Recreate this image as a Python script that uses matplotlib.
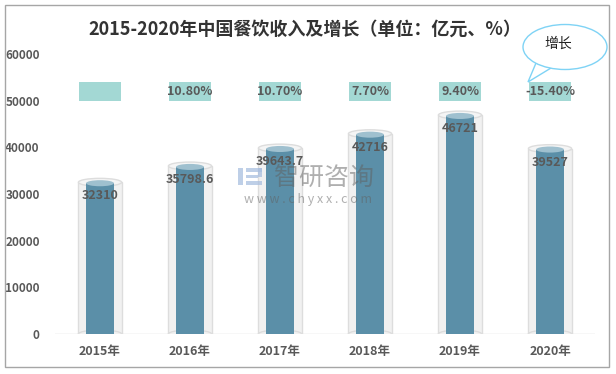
import matplotlib.pyplot as plt
from matplotlib.patches import Ellipse, Rectangle, Polygon

plt.rcParams["font.family"] = ["Noto Sans CJK SC", "DejaVu Sans"]

years = ["2015年", "2016年", "2017年", "2018年", "2019年", "2020年"]
revenue = [32310, 35798.6, 39643.7, 42716, 46721, 39527]
revenue_labels = ["32310", "35798.6", "39643.7", "42716", "46721", "39527"]
growth_labels = ["", "10.80%", "10.70%", "7.70%", "9.40%", "-15.40%"]
yticks = [0, 10000, 20000, 30000, 40000, 50000, 60000]

TEXT = "#595959"
BAR = "#5b8fa8"
BAR_TOP = "#9fc0cf"
BOX = "#a3d8d4"

fig = plt.figure(figsize=(6.16, 3.74), dpi=100)
ax = fig.add_axes([55 / 616, 40 / 374, 540 / 616, 280 / 374])
ax.set_xlim(-0.5, 5.5)
ax.set_ylim(0, 60000)

eh = 1300  # ellipse height in data units
for i, v in enumerate(revenue):
    # glass cylinder
    ax.add_patch(Rectangle((i - 0.24, 0), 0.48, v + 200, facecolor="#f1f1f1",
                           edgecolor="#dddddd", lw=1, zorder=1))
    ax.add_patch(Ellipse((i, 0), 0.48, eh * 1.3, facecolor="#f1f1f1",
                         edgecolor="#dddddd", lw=1, zorder=1))
    ax.add_patch(Ellipse((i, v + 200), 0.48, eh * 1.3, facecolor="#f5f5f5",
                         edgecolor="#dddddd", lw=1, zorder=1.5))
    # inner bar
    ax.bar(i, v, width=0.31, color=BAR, zorder=2)
    ax.add_patch(Ellipse((i, 0), 0.31, eh, facecolor=BAR, edgecolor="none", zorder=2))
    ax.add_patch(Ellipse((i, v), 0.31, eh, facecolor=BAR_TOP, edgecolor="none", zorder=3))
    ax.text(i, v - 2700, revenue_labels[i], ha="center", va="center", fontsize=9,
            color=TEXT, fontweight="bold", zorder=5)

# growth labels
for i, g in enumerate(growth_labels):
    ax.add_patch(Rectangle((i - 0.228, 49900), 0.456, 4100, facecolor=BOX,
                           edgecolor="none", zorder=3))
    ax.text(i, 51900, g, ha="center", va="center", fontsize=9, color=TEXT,
            fontweight="bold", zorder=4)

ax.axhline(0, color="#d9d9d9", lw=1, zorder=0)
for s in ax.spines.values():
    s.set_visible(False)
ax.set_xticks(range(len(years)))
ax.set_xticklabels(years, fontsize=9, color=TEXT, fontweight="bold")
ax.set_yticks(yticks)
ax.set_yticklabels([str(t) for t in yticks], fontsize=8.5, color=TEXT, fontweight="bold")
ax.tick_params(length=0, pad=11)
ax.tick_params(axis="x", pad=8)

fig.text(305 / 616, 1 - 29 / 374, "2015-2020年中国餐饮收入及增长（单位：亿元、%）",
         ha="center", va="center", fontsize=13, fontweight="bold", color="#333333")

# watermark
logo_color = "#a9bfdf"
for x0, y0, w, h in [(238, 168, 5, 17), (246, 168, 16, 4), (258, 168, 4, 9),
                     (246, 175, 12, 3), (246, 181, 16, 4)]:
    fig.patches.append(Rectangle((x0 / 616, 1 - (y0 + h) / 374), w / 616, h / 374,
                                 transform=fig.transFigure, facecolor=logo_color,
                                 edgecolor="none", alpha=0.75, zorder=20))
fig.text(324 / 616, 1 - 178 / 374, "智研咨询", ha="center", va="center", fontsize=18,
         color="#606060", alpha=0.5, zorder=20)
fig.text(308 / 616, 1 - 199 / 374, "w w w . c h y x x . c o m", ha="center",
         va="center", fontsize=9, color="#606060", alpha=0.5, zorder=20)

# callout bubble
bubble = Ellipse((565 / 616, 1 - 47 / 374), 84 / 616, 45 / 374, transform=fig.transFigure,
                 facecolor="white", edgecolor="#7fd3f5", lw=1, zorder=10)
fig.patches.append(bubble)
tail = Polygon([(536 / 616, 1 - 63 / 374), (528 / 616, 1 - 82 / 374), (551 / 616, 1 - 68 / 374)],
               closed=True, transform=fig.transFigure, facecolor="white",
               edgecolor="#7fd3f5", lw=1, zorder=9)
fig.patches.append(tail)
fig.text(558 / 616, 1 - 44 / 374, "增长", ha="center", va="center", fontsize=10,
         color="#222222", zorder=11)

# outer border
fig.patches.append(Rectangle((5 / 616, 7 / 374), 604 / 616, 362 / 374, transform=fig.transFigure,
                             facecolor="none", edgecolor="#a6a6a6", lw=1))

fig.savefig("out.png", dpi=100)
